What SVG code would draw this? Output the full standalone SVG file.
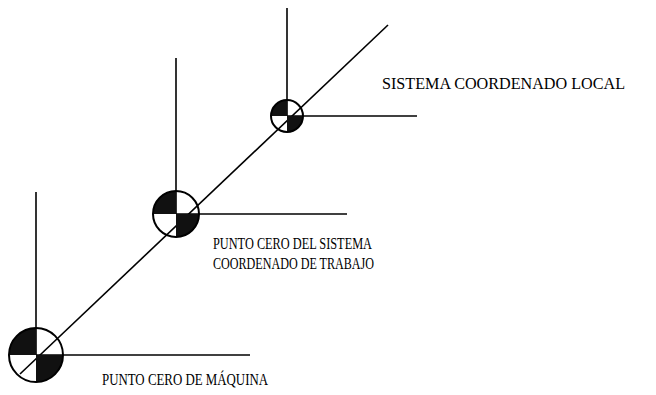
<svg xmlns="http://www.w3.org/2000/svg" width="656" height="395" viewBox="0 0 656 395">
<style>
.ln{stroke:#000;stroke-width:1.6;fill:none}
.ring{stroke:#000;stroke-width:2;fill:none}
.q{fill:#111}
.t{font-family:"Liberation Serif",serif;font-size:16px;fill:#000}
</style>
<rect width="656" height="395" fill="#fff"/>
<g id="connectors">
<line class="ln" x1="36" y1="192" x2="36" y2="355"/>
<line class="ln" x1="36" y1="355" x2="250" y2="355"/>
<line class="ln" x1="176" y1="58" x2="176" y2="214"/>
<line class="ln" x1="176" y1="214" x2="347" y2="214"/>
<line class="ln" x1="287" y1="8" x2="287" y2="116"/>
<line class="ln" x1="287" y1="116" x2="417" y2="116"/>
<line class="ln" x1="20" y1="374" x2="388" y2="25"/>
</g>
<g id="node-maquina">
<path class="q" d="M36,355 L36,328 A27,27 0 0 0 9,355 Z"/>
<path class="q" d="M36,355 L36,382 A27,27 0 0 0 63,355 Z"/>
<circle class="ring" cx="36" cy="355" r="27"/>
</g>
<g id="node-trabajo">
<path class="q" d="M176,214 L176,191 A23,23 0 0 0 153,214 Z"/>
<path class="q" d="M176,214 L176,237 A23,23 0 0 0 199,214 Z"/>
<circle class="ring" cx="176" cy="214" r="23"/>
</g>
<g id="node-local">
<path class="q" d="M287,116 L287,100 A16,16 0 0 0 271,116 Z"/>
<path class="q" d="M287,116 L287,132 A16,16 0 0 0 303,116 Z"/>
<circle class="ring" cx="287" cy="116" r="16"/>
</g>
<g id="labels">
<text class="t" x="382" y="89" textLength="243" lengthAdjust="spacingAndGlyphs">SISTEMA COORDENADO LOCAL</text>
<text class="t" x="213" y="249" textLength="159" lengthAdjust="spacingAndGlyphs">PUNTO CERO DEL SISTEMA</text>
<text class="t" x="213" y="269" textLength="161" lengthAdjust="spacingAndGlyphs">COORDENADO DE TRABAJO</text>
<text class="t" x="102" y="385" textLength="166" lengthAdjust="spacingAndGlyphs">PUNTO CERO DE MÁQUINA</text>
</g>
</svg>
